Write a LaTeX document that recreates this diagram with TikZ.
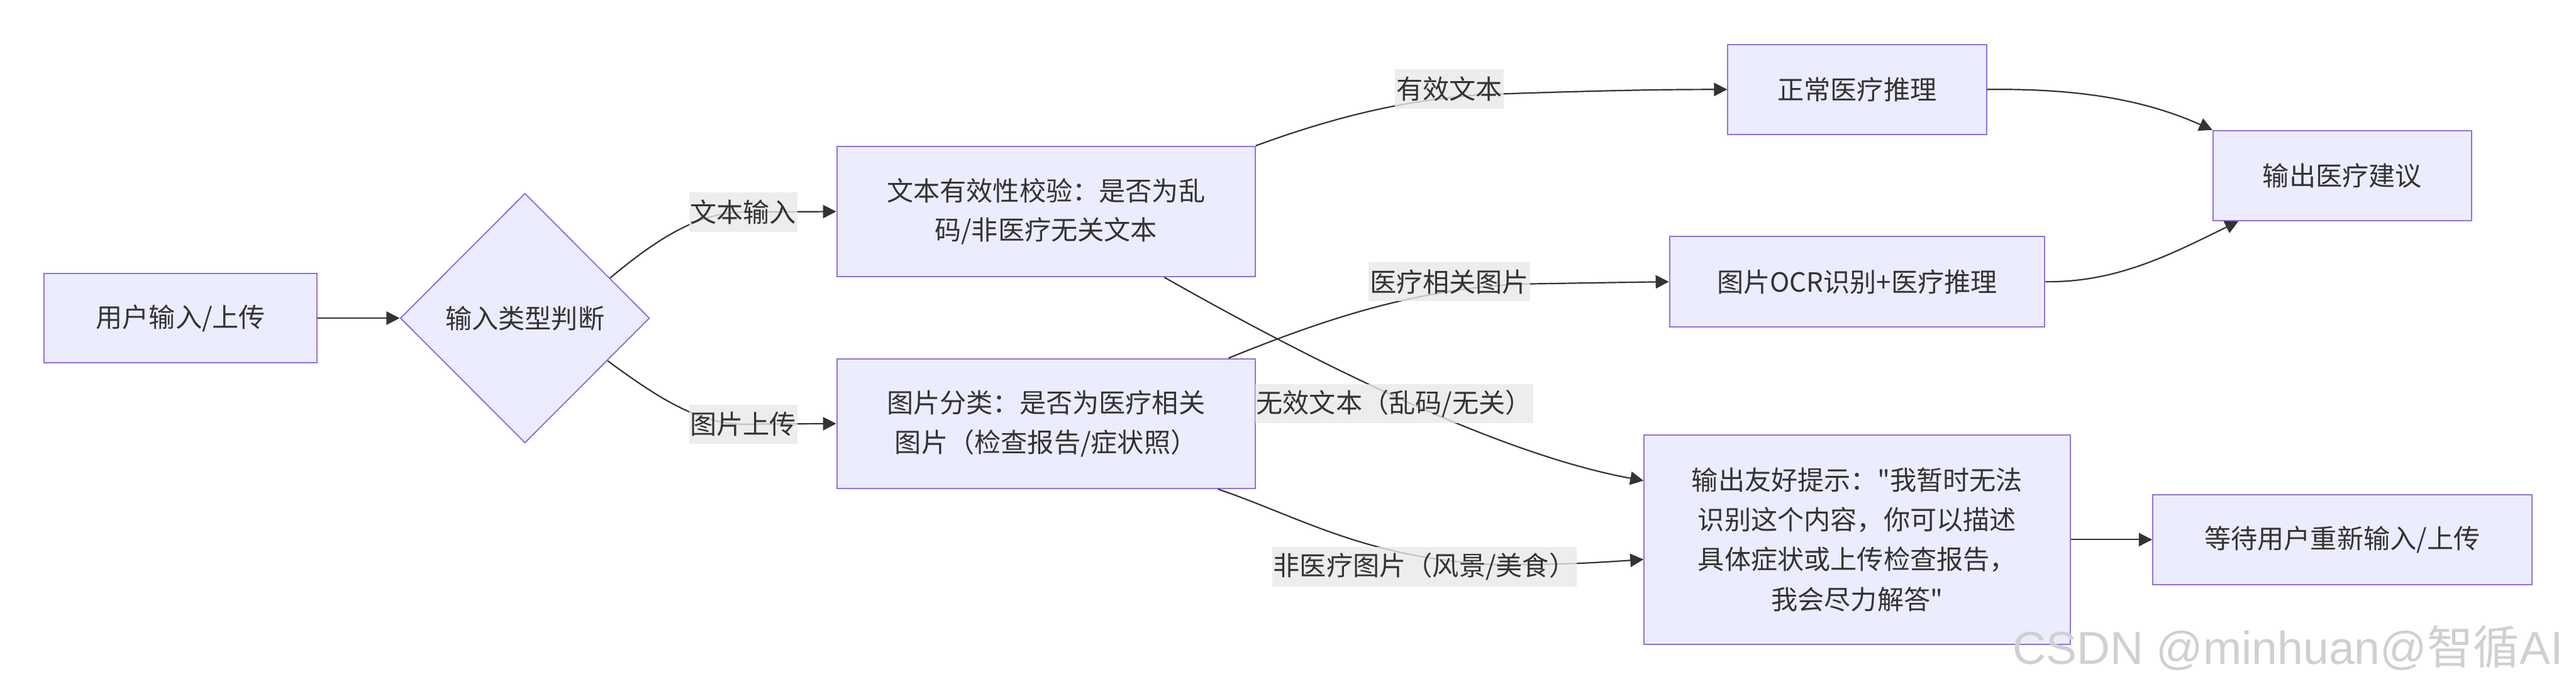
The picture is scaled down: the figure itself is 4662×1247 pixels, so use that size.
\documentclass[tikz,border=0pt]{standalone}
\usepackage{fontspec}
\setmainfont{Noto Sans CJK SC}[Ligatures=TeXOff]
\newfontfamily\cjkfont{Noto Sans CJK SC}
\newfontfamily\wmfont{Liberation Sans}
\usetikzlibrary{shapes.geometric,arrows.meta,calc}
\definecolor{nodefill}{HTML}{ECECFF}
\definecolor{nodeline}{HTML}{9370DB}
\definecolor{txt}{HTML}{333333}
\definecolor{lblbg}{HTML}{E8E8E8}
\definecolor{wmcol}{HTML}{D0D0D0}
\begin{document}
\begin{tikzpicture}[x=0.2pt,y=-0.2pt,
  box/.style={draw=nodeline, fill=nodefill, line width=0.45pt, text=txt,
    font=\fontsize{9.6pt}{14.2pt}\selectfont, align=center, inner sep=0pt},
  decision/.style={diamond, aspect=1, draw=nodeline, fill=nodefill, line width=0.45pt, text=txt,
    font=\fontsize{9.6pt}{14.2pt}\selectfont, inner sep=0pt},
  lbl/.style={fill=lblbg, fill opacity=0.8, text opacity=1, text=txt,
    font=\fontsize{9.6pt}{14.2pt}\selectfont, inner xsep=0.4pt, inner ysep=0pt, minimum height=14.2pt},
  edge/.style={draw=txt, line width=0.5pt, -{Triangle[length=4.8pt,width=4.8pt]}},
]
\useasboundingbox (0,0) rectangle (4662,1247);

% nodes
\node[box, minimum width=98.8pt, minimum height=32.4pt] (A) at (327,576) {用户输入/上传};
\node[decision, minimum width=90.2pt, minimum height=90.4pt] (dia) at (950,576) {输入类型判断};
\node[box, minimum width=151.4pt, minimum height=47.2pt] (B) at (1893,383) {文本有效性校验：是否为乱\\码/非医疗无关文本};
\node[box, minimum width=151.4pt, minimum height=47pt] (C) at (1893,767) {图片分类：是否为医疗相关\\图片（检查报告/症状照）};
\node[box, minimum width=93.6pt, minimum height=32.6pt] (E) at (3361,162) {正常医疗推理};
\node[box, minimum width=135.8pt, minimum height=32.6pt] (F) at (3361,510) {图片OCR识别+医疗推理};
\node[box, minimum width=93.6pt, minimum height=32.6pt] (G) at (4239,318) {输出医疗建议};
\node[box, minimum width=154.2pt, minimum height=75.8pt, font=\fontsize{9.6pt}{14.4pt}\selectfont] (D) at (3361,977)
  {输出友好提示："我暂时无法\\识别这个内容，你可以描述\\具体症状或上传检查报告，\\我会尽力解答"};
\node[box, minimum width=137.2pt, minimum height=32.4pt] (H) at (4239,977) {等待用户重新输入/上传};

% label anchors
\coordinate (l1c) at (1345,384);
\coordinate (l2c) at (1345,768);

% edges
\draw[edge] (A.east) -- (dia.west);
\draw[edge] ($(dia.north)!0.68!(dia.east)$) .. controls (1180,440) and (1260,384) .. (l1c) -- (B.west);
\draw[edge] ($(dia.south)!0.66!(dia.east)$) .. controls (1180,712) and (1260,768) .. (l2c) -- (C.west);
\draw[edge] (B.north east) .. controls (2420,210) and (2560,175) .. (2719,170)
  .. controls (2900,164) and (3000,162) .. (E.west);
\draw[edge] ($(C.north west)!0.935!(C.north east)$) .. controls (2380,585) and (2560,520) .. (2766,514) -- (F.west);
\draw[edge] ($(B.south west)!0.782!(B.south east)$) .. controls (2350,640) and (2700,820) .. ($(D.north west)!0.22!(D.south west)$);
\draw[edge] ($(C.south west)!0.91!(C.south east)$) .. controls (2350,935) and (2470,1010) .. (2700,1022)
  .. controls (2830,1023) and (2900,1018) .. ($(D.north west)!0.594!(D.south west)$);
\draw[edge] (E.east) .. controls (3760,160) and (3880,180) .. (G.north west);
\draw[edge] (F.east) .. controls (3830,512) and (3930,460) .. ($(G.south west)!0.1!(G.south east)$);
\draw[edge] (D.east) -- (H.west);

% edge labels
\node[lbl] (l1) at (l1c) {文本输入};
\node[lbl] (l2) at (l2c) {图片上传};
\node[lbl] (l3) at (2623,161) {有效文本};
\node[lbl] (l4) at (2623,510) {医疗相关图片};
\node[lbl] (l5) at (2523,731) {无效文本（乱码/无关）};
\node[lbl] (l6) at (2578,1026) {非医疗图片（风景/美食）};

% watermark
\node[anchor=base west, inner sep=0pt, text=wmcol, font=\wmfont\fontsize{16.7pt}{20pt}\selectfont] (wm) at (3642,1203)
  {CSDN @minhuan@{\cjkfont 智循}AI};
\end{tikzpicture}
\end{document}
